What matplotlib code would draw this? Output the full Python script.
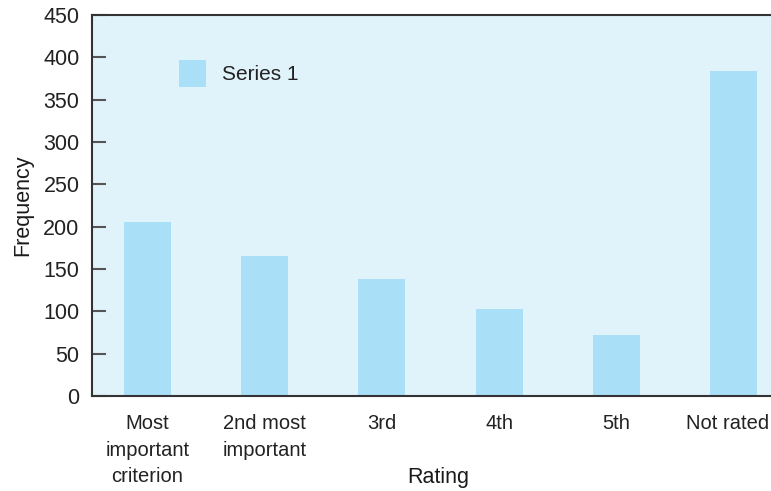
import matplotlib
matplotlib.use('Agg')
import matplotlib.pyplot as plt
import matplotlib.transforms as mtransforms
import numpy as np

categories = ['Most\nimportant\ncriterion', '2nd most\nimportant', '3rd', '4th', '5th', 'Not rated']
frequency = [205, 165, 138, 103, 72, 384]
yticks = [0, 50, 100, 150, 200, 250, 300, 350, 400, 450]

plt.rcParams['font.family'] = ['Liberation Sans', 'DejaVu Sans']

fig = plt.figure(figsize=(7.71, 4.91), dpi=100)
ax = fig.add_axes([92 / 771, 1 - 396 / 491, 1 - 92 / 771, 381 / 491])
ax.set_facecolor('#e0f2fa')

x = np.arange(len(categories))
ax.bar(x, frequency, width=0.4, color='#aadff8', label='Series 1', zorder=2)

ax.set_xlim(-0.474, 5.32)
ax.set_ylim(0, 450)
ax.set_yticks(yticks)
ax.set_xticks(x)
ax.set_xticklabels(categories, fontsize=14.5, color='#222222', linespacing=1.5)
ax.tick_params(axis='x', length=0, pad=13)
ax.tick_params(axis='y', direction='in', length=10, width=1.5, color='#555555',
               labelsize=15.5, labelcolor='#222222', pad=9)

# nudge the last label left so it stays inside the figure
last = ax.get_xticklabels()[-1]
last.set_transform(last.get_transform() +
                   mtransforms.ScaledTranslation(-0.06, 0, fig.dpi_scale_trans))

for side in ['left', 'bottom', 'top']:
    ax.spines[side].set_color('#333333')
    ax.spines[side].set_linewidth(1.5)
ax.spines['right'].set_visible(False)

ax.set_ylabel('Frequency', fontsize=15.5, color='#1a1a1a', labelpad=7)
# axis title sits between the wrapped tick labels, so place it by hand
fig.text(438 / 771, 1 - 478 / 491, 'Rating', fontsize=15.5, color='#1a1a1a',
         ha='center', va='center')

ax.legend(loc='upper left', bbox_to_anchor=(0.1, 0.93), frameon=False,
          fontsize=15, handlelength=1.3, handleheight=1.55, handletextpad=0.8,
          labelcolor='#222222')

fig.savefig('out.png', dpi=100)
